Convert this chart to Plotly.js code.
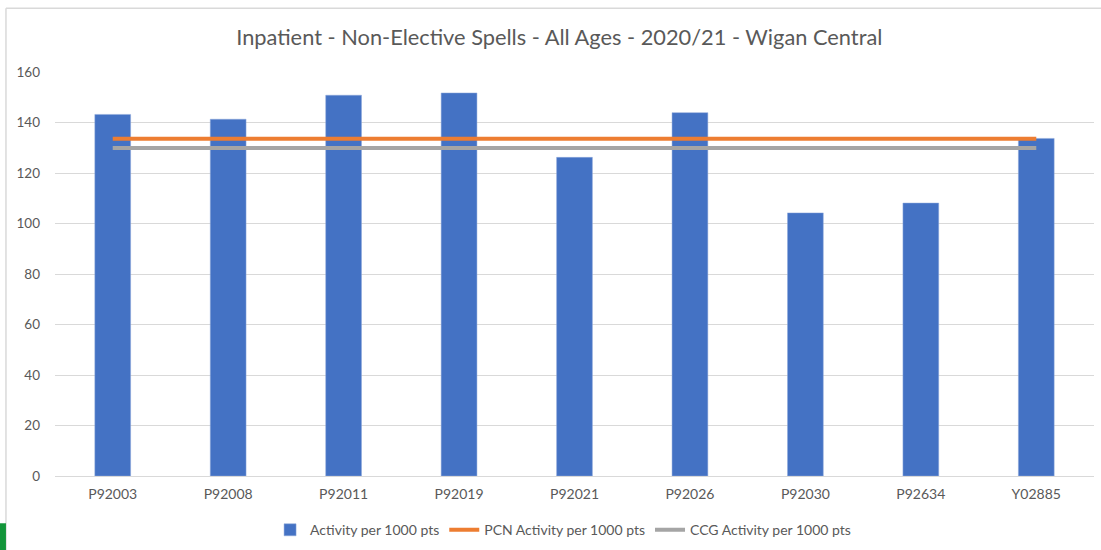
<!DOCTYPE html>
<html>
<head>
<meta charset="utf-8">
<script src="https://cdn.plot.ly/plotly-3.0.1.min.js"></script>
<style>
html,body{margin:0;padding:0;background:#fff;}
#chart{width:1101px;height:550px;}
</style>
</head>
<body>
<div id="chart"></div>
<script>
const categories = ["P92003","P92008","P92011","P92019","P92021","P92026","P92030","P92634","Y02885"];
const activity = [143.2, 141.3, 150.8, 151.7, 126.2, 143.9, 104.2, 108.1, 133.7];
const pcnActivity = [133.6, 133.6, 133.6, 133.6, 133.6, 133.6, 133.6, 133.6, 133.6];
const ccgActivity = [129.9, 129.9, 129.9, 129.9, 129.9, 129.9, 129.9, 129.9, 129.9];
const yTicks = [0, 20, 40, 60, 80, 100, 120, 140, 160];

const FONT = "Lato, 'Open Sans', sans-serif";
const GREY = "#595959";

const traces = [
  {type: "bar", name: "Activity per 1000 pts", x: categories, y: activity,
   marker: {color: "#4472C4", line: {color: "#8EA9DB", width: 0.5}}},
  {type: "scatter", mode: "lines", name: "PCN Activity per 1000 pts", x: categories, y: pcnActivity,
   line: {color: "#ED7D31", width: 4}},
  {type: "scatter", mode: "lines", name: "CCG Activity per 1000 pts", x: categories, y: ccgActivity,
   line: {color: "#A5A5A5", width: 4}}
];

const layout = {
  width: 1101, height: 550,
  margin: {l: 55, r: 7, t: 72, b: 74},
  paper_bgcolor: "#fff", plot_bgcolor: "#fff",
  bargap: 0.69,
  showlegend: true,
  title: {text: "Inpatient - Non-Elective Spells - All Ages - 2020/21 - Wigan Central",
          font: {family: FONT, size: 21.8, color: GREY},
          x: 0.508, xanchor: "center", y: 0.932, yanchor: "middle", xref: "container", yref: "container"},
  xaxis: {type: "category", showgrid: false, showline: true, linecolor: "#d9d9d9", linewidth: 1, automargin: false,
          ticks: "", ticklabelstandoff: 5, tickfont: {family: FONT, size: 14, color: GREY}, zeroline: false, fixedrange: true},
  yaxis: {range: [0, 160], tickvals: yTicks, ticktext: yTicks.map(String), showgrid: true, gridcolor: "#d9d9d9", gridwidth: 1,
          zeroline: false, showline: false, ticks: "", ticklabelstandoff: 14, automargin: false,
          tickfont: {family: FONT, size: 13.5, color: GREY}, fixedrange: true},
  legend: {orientation: "h", x: 0.489, xanchor: "center", y: 0.036, yanchor: "middle", yref: "container",
           font: {family: FONT, size: 14, color: GREY}, traceorder: "normal", itemwidth: 30},
  shapes: [
    {type: "line", xref: "paper", yref: "paper", x0: -0.0472, x1: 1.01, y0: 1.158, y1: 1.158,
     line: {color: "#d9d9d9", width: 1.5}},
    {type: "line", xref: "paper", yref: "paper", x0: -0.0472, x1: -0.0472, y0: 1.158, y1: -0.19,
     line: {color: "#d9d9d9", width: 1.5}},
    {type: "rect", xref: "paper", yref: "paper", x0: -0.0530, x1: -0.0472, y0: -0.117, y1: -0.19,
     fillcolor: "#12953a", line: {width: 0}}
  ]
};

Plotly.newPlot("chart", traces, layout, {displayModeBar: false, staticPlot: true});
</script>
</body>
</html>
